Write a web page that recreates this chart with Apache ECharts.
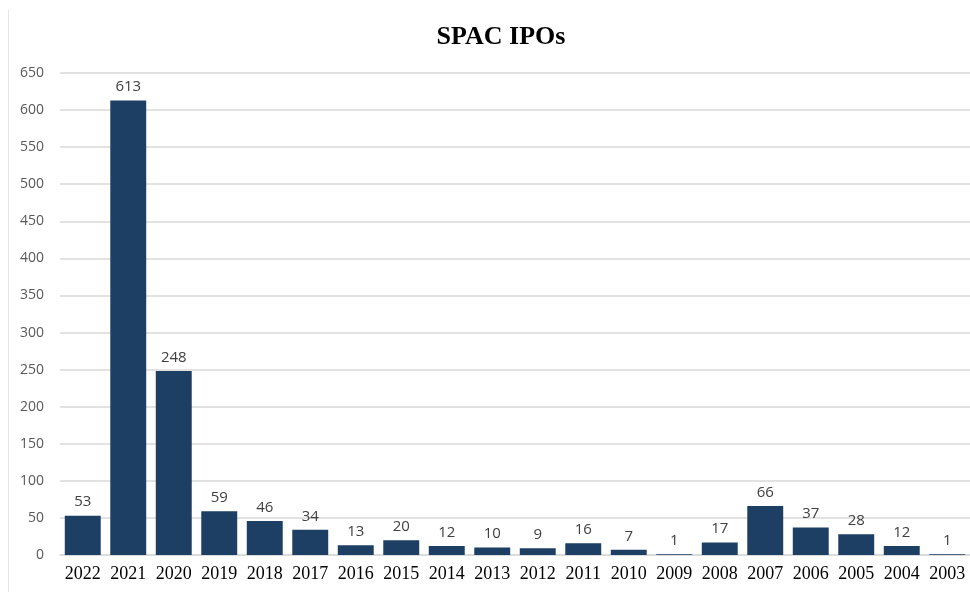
<!DOCTYPE html>
<html>
<head>
<meta charset="utf-8">
<script src="https://cdn.jsdelivr.net/npm/echarts@6/dist/echarts.min.js"></script>
<style>
  html, body { margin: 0; padding: 0; background: #fff; }
  #chart { width: 970px; height: 592px; }
</style>
</head>
<body>
<div id="chart"></div>
<script>
// SPAC IPO counts per year
const years = ["2022", "2021", "2020", "2019", "2018", "2017", "2016", "2015", "2014", "2013",
  "2012", "2011", "2010", "2009", "2008", "2007", "2006", "2005", "2004", "2003"];
const ipoCounts = [53, 613, 248, 59, 46, 34, 13, 20, 12, 10, 9, 16, 7, 1, 17, 66, 37, 28, 12, 1];

const chart = echarts.init(document.getElementById("chart"));
chart.setOption({
  animation: false,
  title: {
    text: "SPAC IPOs",
    left: 496,
    textAlign: "center",
    top: 19,
    textStyle: { fontFamily: "Liberation Serif", fontWeight: "bold", fontSize: 26, color: "#000" }
  },
  graphic: [{
    type: "line",
    shape: { x1: 8.5, y1: 10, x2: 8.5, y2: 592 },
    style: { stroke: "#e6e6e6", lineWidth: 1 }
  }],
  grid: { left: 60, right: 0, top: 73, bottom: 37 },
  xAxis: {
    type: "category",
    data: years,
    axisLine: { show: true, lineStyle: { color: "#d9d9d9", width: 1.5 } },
    axisTick: { show: false },
    axisLabel: { fontFamily: "Liberation Serif", fontSize: 18, color: "#000", margin: 10, interval: 0 }
  },
  yAxis: {
    type: "value",
    min: 0,
    max: 650,
    interval: 50,
    axisLine: { show: false },
    axisTick: { show: false },
    splitLine: { lineStyle: { color: "#d9d9d9", width: 1.5 } },
    axisLabel: { fontFamily: "Open Sans", fontSize: 14, color: "#595959", margin: 16 }
  },
  series: [{
    type: "bar",
    data: ipoCounts,
    barCategoryGap: "21%",
    itemStyle: { color: "#1d3f63" },
    label: {
      show: true,
      position: "top",
      distance: 6,
      fontFamily: "Open Sans",
      fontSize: 15,
      color: "#404040"
    }
  }]
});
</script>
</body>
</html>
